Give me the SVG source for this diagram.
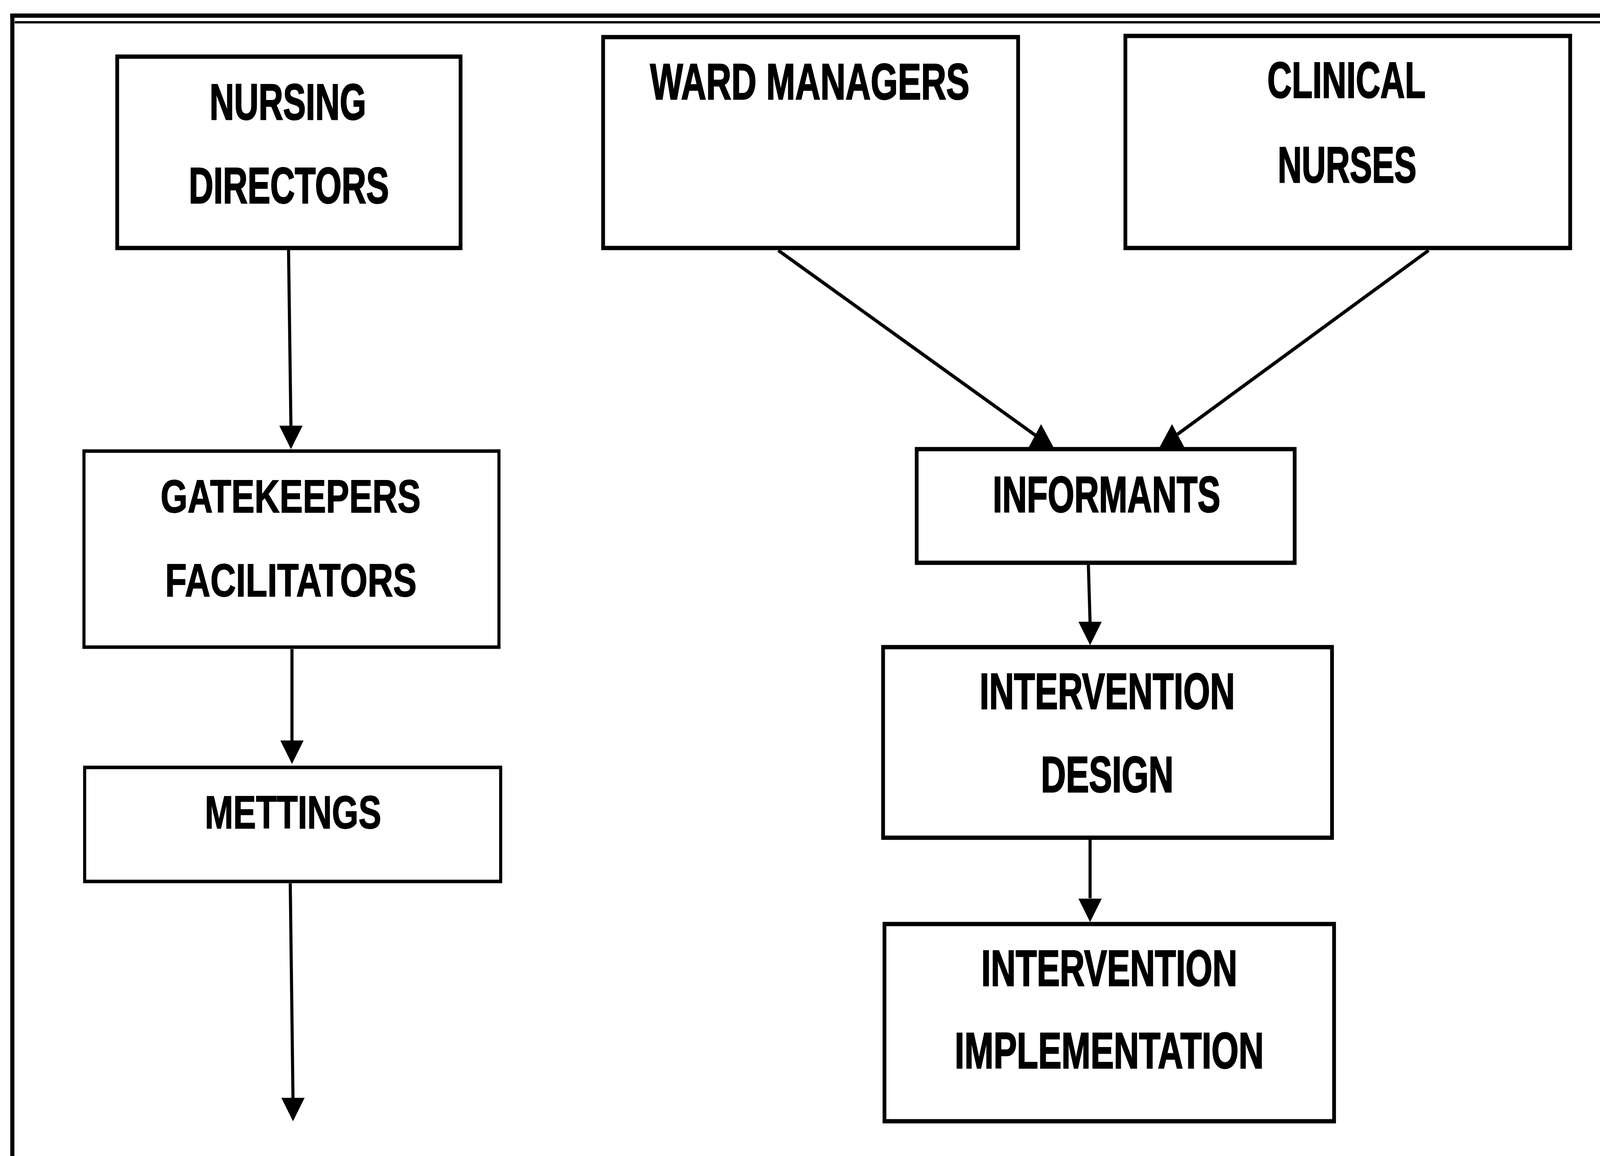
<svg xmlns="http://www.w3.org/2000/svg" width="4669" height="2960" viewBox="0 0 4669 2960" preserveAspectRatio="none">
<style>
svg{width:100vw;height:100vh}
.box{fill:#fff;stroke:#000;stroke-width:11}
.box2{fill:#fff;stroke:#000;stroke-width:9}
.ln{stroke:#000;stroke-width:9;fill:none}
.frame{stroke:#000;fill:none}
.tn{font-family:"Liberation Sans Narrow","Liberation Sans",Arial,sans-serif;font-weight:bold;font-size:130px;fill:#000;stroke:#000;stroke-width:3;text-anchor:middle}
.tw{font-family:"Liberation Sans",Arial,sans-serif;font-weight:bold;font-size:118px;fill:#000;stroke:#000;stroke-width:2;text-anchor:middle}
</style>
<defs>
<path id="dn" d="M-34,-60 L34,-60 L0,0 Z" fill="#000"/>
<path id="up" d="M-36,59 L36,59 L0,0 Z" fill="#000"/>
</defs>
<rect width="4669" height="2960" fill="#fff"/>
<g id="frame">
<line class="frame" x1="30" y1="40" x2="4669" y2="40" stroke-width="11"/>
<line class="frame" x1="43" y1="57" x2="4669" y2="57" stroke-width="6"/>
<line class="frame" x1="36" y1="35" x2="36" y2="2960" stroke-width="12"/>
</g>
<g id="connectors">
<line class="ln" x1="842" y1="640" x2="849" y2="1095"/>
<use href="#dn" x="849" y="1150"/>
<line class="ln" x1="852" y1="1662" x2="852" y2="1900"/>
<use href="#dn" x="852" y="1956"/>
<line class="ln" x1="847" y1="2262" x2="855" y2="2815"/>
<use href="#dn" x="855" y="2871"/>
<line class="ln" x1="3176" y1="1446" x2="3181" y2="1595"/>
<use href="#dn" x="3181" y="1652"/>
<line class="ln" x1="3181" y1="2150" x2="3181" y2="2300"/>
<use href="#dn" x="3181" y="2361"/>
<line class="ln" x1="2271" y1="641" x2="3022" y2="1115"/>
<use href="#up" x="3038" y="1086"/>
<line class="ln" x1="4169" y1="641" x2="3436" y2="1112"/>
<use href="#up" x="3420" y="1086"/>
</g>
<g id="nursing-directors">
<rect class="box" x="342" y="145" width="1002" height="490"/>
<text class="tn" x="840" y="306" textLength="457" lengthAdjust="spacingAndGlyphs">NURSING</text>
<text class="tn" x="843" y="520" textLength="584" lengthAdjust="spacingAndGlyphs">DIRECTORS</text>
</g>
<g id="ward-managers">
<rect class="box" x="1760" y="95" width="1211" height="540"/>
<text class="tn" x="2363" y="254" textLength="932" lengthAdjust="spacingAndGlyphs">WARD MANAGERS</text>
</g>
<g id="clinical-nurses">
<rect class="box" x="3284" y="92" width="1298" height="543"/>
<text class="tn" x="3929" y="250" textLength="462" lengthAdjust="spacingAndGlyphs">CLINICAL</text>
<text class="tn" x="3931" y="467" textLength="405" lengthAdjust="spacingAndGlyphs">NURSES</text>
</g>
<g id="gatekeepers">
<rect class="box2" x="245" y="1155" width="1211" height="502"/>
<text class="tw" x="848" y="1312" textLength="759" lengthAdjust="spacingAndGlyphs">GATEKEEPERS</text>
<text class="tw" x="849" y="1527" textLength="734" lengthAdjust="spacingAndGlyphs">FACILITATORS</text>
</g>
<g id="mettings">
<rect class="box2" x="247" y="1965" width="1214" height="292"/>
<text class="tw" x="855" y="2121" textLength="515" lengthAdjust="spacingAndGlyphs">METTINGS</text>
</g>
<g id="informants">
<rect class="box" x="2675" y="1150" width="1103" height="291"/>
<text class="tn" x="3229" y="1311" textLength="664" lengthAdjust="spacingAndGlyphs">INFORMANTS</text>
</g>
<g id="intervention-design">
<rect class="box" x="2577" y="1657" width="1310" height="488"/>
<text class="tn" x="3231" y="1815" textLength="745" lengthAdjust="spacingAndGlyphs">INTERVENTION</text>
<text class="tn" x="3231" y="2028" textLength="387" lengthAdjust="spacingAndGlyphs">DESIGN</text>
</g>
<g id="intervention-implementation">
<rect class="box" x="2581" y="2366" width="1312" height="505"/>
<text class="tn" x="3237" y="2524" textLength="747" lengthAdjust="spacingAndGlyphs">INTERVENTION</text>
<text class="tn" x="3237" y="2735" textLength="902" lengthAdjust="spacingAndGlyphs">IMPLEMENTATION</text>
</g>
</svg>
